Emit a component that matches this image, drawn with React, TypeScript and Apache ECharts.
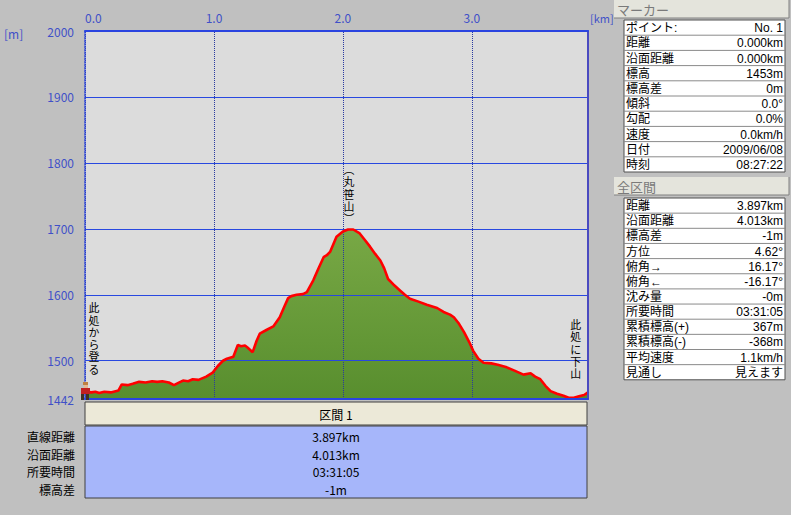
import React, { useEffect, useRef } from "react";
import * as echarts from "echarts";

// ---- data ----
const distanceKm = [0, 0.05, 0.08, 0.11, 0.15, 0.2, 0.26, 0.285, 0.33, 0.37, 0.42, 0.47, 0.52, 0.56, 0.6, 0.65, 0.69, 0.72, 0.76, 0.8, 0.835, 0.88, 0.94, 0.99, 1.03, 1.07, 1.1, 1.15, 1.185, 1.21, 1.24, 1.26, 1.3, 1.33, 1.355, 1.41, 1.46, 1.51, 1.545, 1.575, 1.6, 1.64, 1.69, 1.72, 1.77, 1.81, 1.85, 1.875, 1.9, 1.95, 2.0, 2.04, 2.08, 2.13, 2.17, 2.21, 2.25, 2.29, 2.32, 2.35, 2.4, 2.44, 2.48, 2.52, 2.58, 2.65, 2.73, 2.78, 2.83, 2.86, 2.9, 2.94, 2.98, 3.01, 3.05, 3.09, 3.15, 3.2, 3.27, 3.33, 3.4, 3.455, 3.49, 3.53, 3.57, 3.61, 3.66, 3.71, 3.75, 3.79, 3.83, 3.87, 3.9];
const elevationM = [1453, 1452, 1453, 1451, 1453, 1452, 1455, 1464, 1463, 1465, 1468, 1467, 1469, 1468, 1469, 1467, 1463, 1466, 1470, 1469, 1472, 1471, 1476, 1482, 1492, 1500, 1503, 1506, 1524, 1522, 1523, 1520, 1513, 1530, 1541, 1547, 1552, 1566, 1582, 1595, 1598, 1600, 1601, 1604, 1622, 1640, 1657, 1660, 1665, 1688, 1696, 1699, 1699, 1693, 1683, 1673, 1662, 1652, 1640, 1624, 1614, 1607, 1600, 1594, 1590, 1585, 1580, 1574, 1570, 1566, 1556, 1543, 1528, 1515, 1503, 1497, 1496, 1494, 1490, 1485, 1479, 1481, 1476, 1472, 1462, 1454, 1450, 1447, 1444, 1444, 1446, 1448, 1452];

const xGridKm = [0, 1, 2, 3];
const yLabelValues = [1442, 1500, 1600, 1700, 1800, 1900, 2000];
const yGridValues = [1500, 1600, 1700, 1800, 1900];

const annotationTexts = ["此処から登る", "此処に下山", "︵丸笹山︶"];
const annotationKm = [0.07, 3.805, 2.047];
const annotationElev = [1533, 1517, 1752];

const markerLabels = ["ポイント:", "距離", "沿面距離", "標高", "標高差", "傾斜", "勾配", "速度", "日付", "時刻"];
const markerValues = ["No. 1", "0.000km", "0.000km", "1453m", "0m", "0.0°", "0.0%", "0.0km/h", "2009/06/08", "08:27:22"];

const totalLabels = ["距離", "沿面距離", "標高差", "方位", "俯角→", "俯角←", "沈み量", "所要時間", "累積標高(+)", "累積標高(-)", "平均速度", "見通し"];
const totalValues = ["3.897km", "4.013km", "-1m", "4.62°", "16.17°", "-16.17°", "-0m", "03:31:05", "367m", "-368m", "1.1km/h", "見えます"];

const segmentTitle = "区間 1";
const segmentLabels = ["直線距離", "沿面距離", "所要時間", "標高差"];
const segmentValues = ["3.897km", "4.013km", "03:31:05", "-1m"];

// ---- styles ----
const FONT = '"Noto Sans CJK JP", "Noto Sans", sans-serif';
const LATIN = '"Liberation Sans", "Noto Sans CJK JP", sans-serif';
const AXIS_BLUE = "#4050c8";

function txt(x: number, y: number, text: string, o: any = {}) {
  return {
    type: "text",
    x,
    y,
    silent: true,
    z: o.z ?? 50,
    style: {
      text,
      fill: o.fill || "#000",
      fontSize: o.size || 12,
      fontFamily: o.font || FONT,
      align: o.align || "left",
      verticalAlign: "middle",
    },
  };
}
function rect(x: number, y: number, w: number, h: number, fill: string, stroke?: string | null, lw = 1, z = 40) {
  return {
    type: "rect",
    silent: true,
    z,
    shape: { x, y, width: w, height: h },
    style: { fill, stroke: stroke || null, lineWidth: stroke ? lw : 0 },
  };
}
function line(x1: number, y1: number, x2: number, y2: number, stroke: string, z = 45) {
  return { type: "line", silent: true, z, shape: { x1, y1, x2, y2 }, style: { stroke, lineWidth: 1 } };
}

function table(x: number, y: number, w: number, rowH: number, labels: string[], values: string[]) {
  const els: any[] = [];
  const h = rowH * labels.length;
  els.push(rect(x, y, w, h, "#ffffff", "#505050", 1));
  labels.forEach((l, i) => {
    const cy = y + rowH * i + rowH / 2;
    if (i > 0) els.push(line(x, y + rowH * i, x + w, y + rowH * i, "#8a8a8a"));
    els.push(txt(x + 2, cy + 0.5, l, { size: 12, font: LATIN }));
    els.push(txt(x + w - 2, cy + 0.5, values[i], { align: "right", size: 12, font: LATIN }));
  });
  return els;
}

function panelHeader(x: number, y: number, w: number, h: number, title: string) {
  return [
    rect(x, y, w, h, "#e4e4dc", null),
    line(x, y + h, x + w, y + h, "#808080"),
    line(x + w, y, x + w, y + h, "#808080"),
    txt(x + 3, y + h / 2 + 0.5, title, { fill: "#7a7a7a", size: 13 }),
  ];
}

export default function App() {
  const ref = useRef<HTMLDivElement>(null);
  useEffect(() => {
    document.body.style.margin = "0";
    if (!ref.current) return;
    const chart = echarts.init(ref.current, null, { renderer: "svg" });
    const pairs = distanceKm.map((d, i) => [d, elevationM[i]]);

    const graphics: any[] = [];
    graphics.push(txt(4, 33, "[m]", { fill: AXIS_BLUE, size: 12 }));
    // right panel
    graphics.push(...panelHeader(614, 0, 175, 18, "マーカー"));
    graphics.push(...table(624, 20, 161, 15.2, markerLabels, markerValues));
    graphics.push(...panelHeader(614, 177, 175, 18, "全区間"));
    graphics.push(...table(624, 198, 161, 15.15, totalLabels, totalValues));
    // bottom segment table
    graphics.push(rect(85, 402, 502, 23, "#ece9d8", "#404040", 1));
    graphics.push(txt(336, 414, segmentTitle, { align: "center" }));
    graphics.push(rect(85, 426, 502, 72, "#a6b6fa", "#404040", 1));
    segmentLabels.forEach((l, i) => {
      const cy = 436.5 + i * 17.6;
      graphics.push(txt(75, cy, l, { align: "right" }));
      graphics.push(txt(336, cy, segmentValues[i], { align: "center" }));
    });
    // start hiker icon
    graphics.push(rect(83, 382, 5, 3, "#c08040", null, 0, 60));
    graphics.push(rect(84, 385, 4, 3, "#e8b890", null, 0, 60));
    graphics.push(rect(81, 388, 9, 6, "#c02020", null, 0, 60));
    graphics.push(rect(81, 394, 3, 6, "#403020", null, 0, 60));
    graphics.push(rect(86, 394, 3, 6, "#403020", null, 0, 60));

    const vLines = xGridKm.map((v) => ({ xAxis: v, lineStyle: { color: "#2838a0", type: "dotted", width: 1 } }));
    const hLines = yGridValues.map((v) => ({ yAxis: v, lineStyle: { color: "#2848e0", type: "solid", width: 1.2 } }));

    const option: any = {
      animation: false,
      backgroundColor: "#c0c0c0",
      textStyle: { fontFamily: FONT },
      grid: { left: 85, top: 31, width: 503, height: 368, show: true, backgroundColor: "#dcdcdc", borderWidth: 0 },
      xAxis: [
        {
          type: "value",
          position: "top",
          min: 0,
          max: 3.9,
          interval: 1,
          z: 20,
          axisLine: { show: true, onZero: false, lineStyle: { color: "#2a44e0", width: 2 } },
          axisTick: { show: false },
          splitLine: { show: false },
          axisLabel: {
            color: AXIS_BLUE,
            fontSize: 12,
            margin: 8,
            showMaxLabel: false,
            alignMinLabel: "left",
            formatter: (v: number) => v.toFixed(1),
          },
          name: "[km]",
          nameLocation: "end",
          nameGap: 2,
          nameTextStyle: { color: AXIS_BLUE, fontSize: 11, verticalAlign: "bottom", padding: [0, 0, 8, 0] },
        },
        {
          type: "value",
          position: "bottom",
          min: 0,
          max: 3.9,
          z: 20,
          axisLine: { show: true, onZero: false, lineStyle: { color: "#2a44e0", width: 2 } },
          axisTick: { show: false },
          axisLabel: { show: false },
          splitLine: { show: false },
        },
      ],
      yAxis: [
        {
          type: "value",
          min: 1442,
          max: 2000,
          z: 20,
          axisLine: { show: true, onZero: false, lineStyle: { color: "#3048d8", width: 1.5, type: "dotted" } },
          axisTick: { show: false },
          splitLine: { show: false },
          axisLabel: {
            color: AXIS_BLUE,
            fontSize: 12,
            margin: 11,
            customValues: yLabelValues,
            formatter: (v: number) => String(v),
          },
        },
        {
          type: "value",
          position: "right",
          min: 1442,
          max: 2000,
          z: 20,
          axisLine: { show: true, onZero: false, lineStyle: { color: "#4a4ac0", width: 2 } },
          axisTick: { show: false },
          axisLabel: { show: false },
          splitLine: { show: false },
        },
      ],
      series: [
        {
          type: "line",
          data: pairs,
          symbol: "none",
          lineStyle: { width: 0 },
          areaStyle: {
            origin: "start",
            opacity: 1,
            color: new echarts.graphic.LinearGradient(0, 0, 0, 1, [
              { offset: 0, color: "#78a845" },
              { offset: 1, color: "#588e2e" },
            ]),
          },
          z: 2,
          silent: true,
          markLine: {
            silent: true,
            symbol: ["none", "none"],
            label: { show: false },
            data: [...vLines, ...hLines],
          },
        },
        {
          type: "line",
          data: pairs,
          symbol: "none",
          lineStyle: { color: "#ff0000", width: 2.6 },
          z: 10,
          silent: true,
        },
      ],
      graphic: graphics,
    };
    chart.setOption(option);

    // vertical annotations: one text per character, anchored on data coordinates
    const pitch = 12.3;
    const annGraphics: any[] = [];
    annotationTexts.forEach((t, i) => {
      const p = chart.convertToPixel({ xAxisIndex: 0, yAxisIndex: 0 }, [annotationKm[i], annotationElev[i]]) as number[];
      const chars = t.split("");
      const y0 = p[1] - ((chars.length - 1) * pitch) / 2;
      chars.forEach((c, j) => {
        annGraphics.push(txt(p[0], y0 + j * pitch, c, { align: "center", size: 10.9, font: LATIN, z: 60 }));
      });
    });
    chart.setOption({ graphic: [...graphics, ...annGraphics] });

    return () => chart.dispose();
  }, []);
  return <div ref={ref} style={{ position: "absolute", left: 0, top: 0, width: 791, height: 515 }} />;
}
